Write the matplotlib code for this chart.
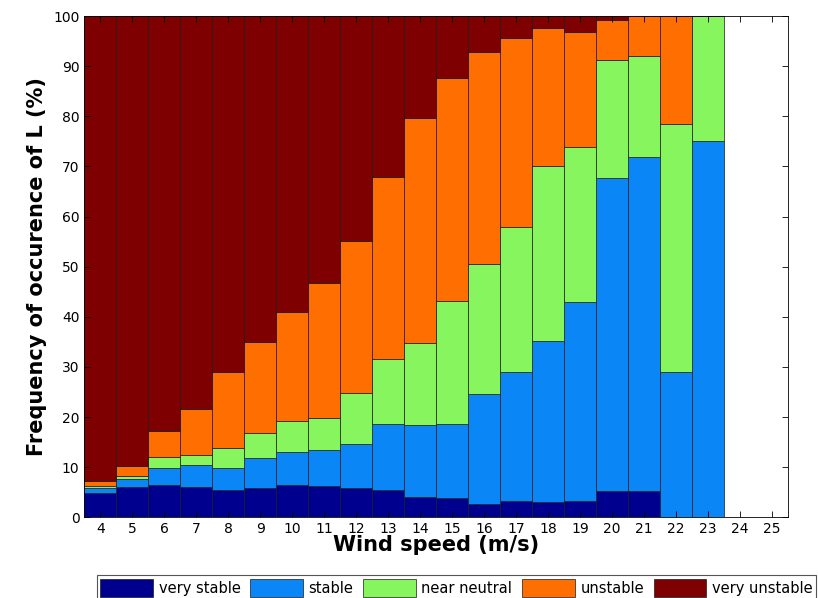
import numpy as np
import matplotlib.pyplot as plt

# --- data: cumulative tops (%) ---
wind_speed = np.arange(4, 24)
tick_labels = [str(v) for v in range(4, 26)]
classes = ['very stable', 'stable', 'near neutral', 'unstable', 'very unstable']
colors = ['#00008F', '#0A86F6', '#86F55E', '#FF6E00', '#7F0000']

cum_very_stable = [4.8, 6.0, 6.5, 6.0, 5.5, 5.8, 6.5, 6.3, 5.8, 5.5, 4.1, 3.8, 2.6, 3.3, 3.1, 3.3, 5.2, 5.2, 0.0, 0.0]
cum_stable = [5.8, 7.6, 9.8, 10.4, 9.8, 11.8, 13.1, 13.4, 14.6, 18.6, 18.4, 18.7, 24.6, 28.9, 35.1, 43.0, 67.7, 71.8, 29.0, 75.0]
cum_near_neutral = [6.3, 8.2, 12.0, 12.4, 13.9, 16.8, 19.2, 19.8, 24.7, 31.6, 34.7, 43.2, 50.5, 57.9, 70.0, 73.9, 91.3, 92.0, 78.5, 100.0]
cum_unstable = [7.2, 10.3, 17.2, 21.6, 28.9, 35.0, 40.9, 46.7, 55.2, 67.9, 79.7, 87.6, 92.8, 95.7, 97.6, 96.9, 99.2, 100.0, 100.0, 100.0]
cum_very_unstable = [100.0] * 18 + [100.0, 100.0]
has_very_unstable = [True] * 18 + [False, False]

cums = [cum_very_stable, cum_stable, cum_near_neutral, cum_unstable, cum_very_unstable]

fig = plt.figure(figsize=(8.18, 5.98), dpi=100)
ax = fig.add_axes([0.103, 0.135, 0.860, 0.838])

bottom = np.zeros(len(wind_speed))
for i, (name, cum) in enumerate(zip(classes, cums)):
    top = np.array(cum, dtype=float)
    if i == 4:
        top = np.where(has_very_unstable, top, bottom)
    heights = top - bottom
    ax.bar(wind_speed, heights, bottom=bottom, width=1.0, color=colors[i],
           edgecolor='#1a1a1a', linewidth=0.5, label=name)
    bottom = np.maximum(bottom, top)

ax.set_xlim(3.5, 25.5)
ax.set_ylim(0, 100)
ax.set_xticks(range(4, 26))
ax.set_xticklabels(tick_labels)
ax.set_yticks(range(0, 101, 10))
ax.tick_params(direction='in', top=True, right=True, labelsize=10, length=4, width=0.6)
for sp in ax.spines.values():
    sp.set_linewidth(0.6)

ax.set_xlabel('Wind speed (m/s)', fontsize=15, fontweight='bold', labelpad=-1)
ax.set_ylabel('Frequency of occurence of L (%)', fontsize=15, fontweight='bold')

handles, labels = ax.get_legend_handles_labels()
leg = fig.legend(handles, labels, loc='lower left', bbox_to_anchor=(0.118, -0.005, 0.88, 0.06),
                 mode='expand', ncol=5, fontsize=10.5, handlelength=3.6, handleheight=1.6,
                 handletextpad=0.4, columnspacing=0.6, borderpad=0.25, fancybox=False,
                 framealpha=1, edgecolor='#555555', borderaxespad=0.0)
leg.get_frame().set_linewidth(0.8)

fig.savefig('out.png', dpi=100)
